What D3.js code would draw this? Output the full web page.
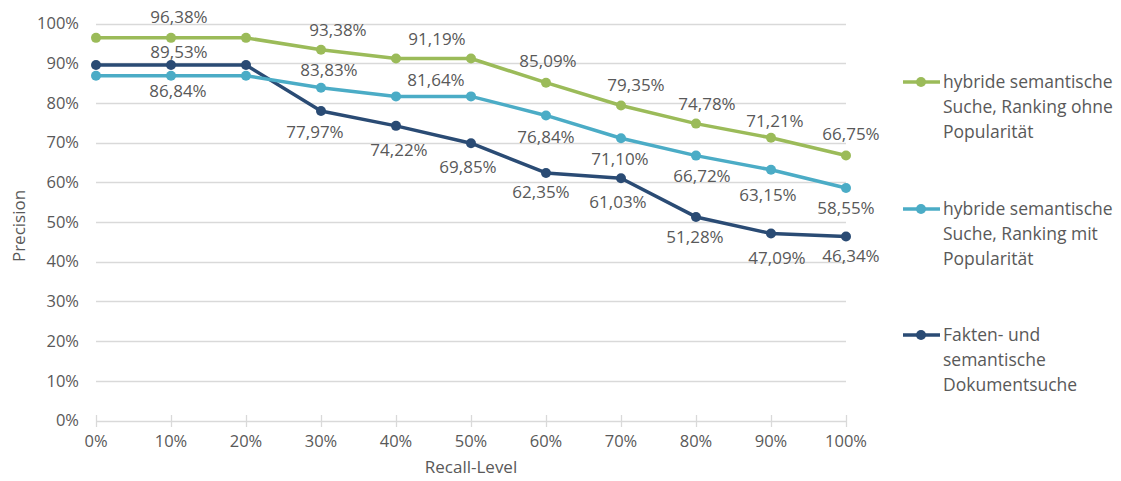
<!DOCTYPE html>
<html><head><meta charset="utf-8">
<script src="https://cdn.jsdelivr.net/npm/d3@7"></script>
<style>
body{margin:0;background:#fff;}
text{font-family:"Open Sans",sans-serif;fill:#595959;}
</style></head>
<body><svg id="c" width="1121" height="481"></svg>
<script>
const recallLevels = [0,10,20,30,40,50,60,70,80,90,100];
const yTicks = [0,10,20,30,40,50,60,70,80,90,100];
const seriesNames = [
  ["hybride semantische","Suche, Ranking ohne","Popularität"],
  ["hybride semantische","Suche, Ranking mit","Popularität"],
  ["Fakten- und","semantische","Dokumentsuche"]
];
const ohnePop = [96.38,96.38,96.38,93.38,91.19,91.19,85.09,79.35,74.78,71.21,66.75];
const mitPop  = [86.84,86.84,86.84,83.83,81.64,81.64,76.84,71.10,66.72,63.15,58.55];
const fakten  = [89.53,89.53,89.53,77.97,74.22,69.85,62.35,61.03,51.28,47.09,46.34];
const colors = ["#9bbb59","#4bacc6","#2a4b74"];
// label placement (dx, dy from point), null = no label
const labelPos = [
  [null,[8,-21],null,[17,-20],null,[-34,-19],[2,-22],[15,-20],[11,-20],[4,-17],[5,-21]],
  [null,[7,15],null,[8,-18],null,[-35,-16],[0,21.5],[-1,20.6],[6,20.7],[-3,25],[0,20]],
  [null,[8,-13],null,[-6,21],[3,24],[-3,24],[-5,19],[-3,23.5],[-1,20.4],[6,24.7],[5,20]]
];
const series = [ohnePop, mitPop, fakten];

const svg = d3.select("#c");
const x = d3.scaleLinear().domain([0,100]).range([96,846]);
const y = d3.scaleLinear().domain([0,100]).range([420.5,23.5]);
const fmt = v => v.toFixed(2).replace(".",",") + "%";

// gridlines
svg.append("g").selectAll("line").data(yTicks).join("line")
  .attr("x1",x(0)).attr("x2",x(100))
  .attr("y1",d=>Math.round(y(d))+0.5).attr("y2",d=>Math.round(y(d))+0.5)
  .attr("stroke","#d9d9d9").attr("stroke-width",1.3);

// y axis labels
svg.append("g").selectAll("text").data(yTicks).join("text")
  .attr("x",79).attr("y",d=>y(d)).attr("dy","0.35em")
  .attr("text-anchor","end").style("font-size","16.5px").text(d=>d+"%");

// x axis ticks (cross)
svg.append("g").selectAll("line").data(recallLevels).join("line")
  .attr("x1",d=>Math.round(x(d))+0.5).attr("x2",d=>Math.round(x(d))+0.5)
  .attr("y1",415).attr("y2",427).attr("stroke","#d9d9d9").attr("stroke-width",1.3);
svg.append("g").selectAll("text").data(recallLevels).join("text")
  .attr("x",d=>x(d)).attr("y",441).attr("dy","0.35em")
  .attr("text-anchor","middle").style("font-size","16.5px").text(d=>d+"%");

// axis titles
svg.append("text").attr("x",471).attr("y",467).attr("dy","0.35em")
  .attr("text-anchor","middle").style("font-size","17px").text("Recall-Level");
svg.append("text").attr("transform","translate(19,226) rotate(-90)").attr("dy","0.35em")
  .attr("text-anchor","middle").style("font-size","17px").text("Precision");

const line = d3.line().x((d,i)=>x(recallLevels[i])).y(d=>y(d));

// draw series: dark first, then light, then green on top
[2,1,0].forEach(s=>{
  const g = svg.append("g");
  g.append("path").datum(series[s]).attr("d",line)
    .attr("fill","none").attr("stroke",colors[s]).attr("stroke-width",3.5)
    .attr("stroke-linejoin","round");
  g.selectAll("circle").data(series[s]).join("circle")
    .attr("cx",(d,i)=>x(recallLevels[i])).attr("cy",d=>y(d)).attr("r",5)
    .attr("fill",colors[s]);
});
// labels
series.forEach((vals,s)=>{
  svg.append("g").selectAll("text").data(vals.map((v,i)=>({v,i,p:labelPos[s][i]})).filter(d=>d.p))
    .join("text")
    .attr("x",d=>x(recallLevels[d.i])+d.p[0]).attr("y",d=>y(d.v)+d.p[1]).attr("dy","0.35em")
    .attr("text-anchor","middle").style("font-size","17px").text(d=>fmt(d.v));
});

// legend
const legY = [82,209,335];
seriesNames.forEach((lines,s)=>{
  const g = svg.append("g");
  g.append("line").attr("x1",903).attr("x2",940).attr("y1",legY[s]).attr("y2",legY[s])
    .attr("stroke",colors[s]).attr("stroke-width",3.5);
  g.append("circle").attr("cx",921).attr("cy",legY[s]).attr("r",5).attr("fill",colors[s]);
  lines.forEach((t,k)=>{
    g.append("text").attr("x",943).attr("y",legY[s]+k*25).attr("dy","0.35em")
      .style("font-size","17.5px").text(t);
  });
});
</script></body></html>
